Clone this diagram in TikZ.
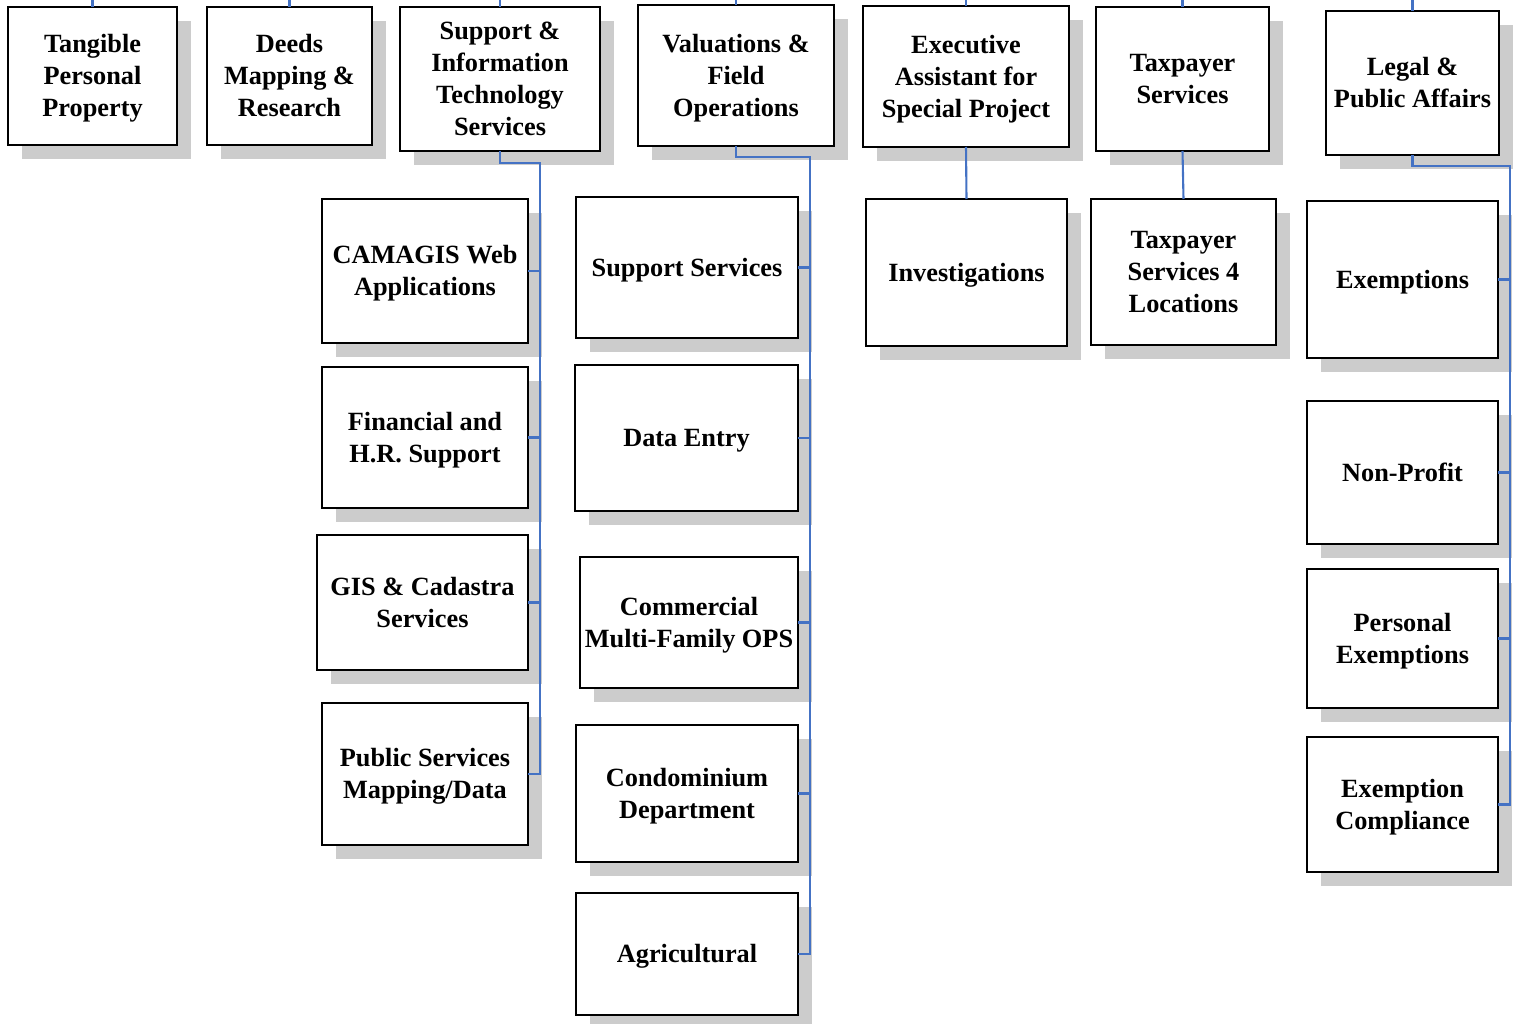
\documentclass[tikz,border=0pt]{standalone}
\usepackage{fontspec}
\setmainfont{Liberation Serif}
\usetikzlibrary{shadows}
\definecolor{shadowgray}{HTML}{CCCCCC}
\definecolor{linkblue}{HTML}{4472C4}
\tikzset{
  orgbox/.style={draw=black, line width=1.7pt, fill=white, inner sep=0pt, outer sep=0pt,
    anchor=north west,
    general shadow={shadow xshift=14pt, shadow yshift=-14pt, fill=shadowgray, draw=none}},
  orgtext/.style={align=center, inner sep=0pt, yshift=-2.2pt,
    font=\bfseries\fontsize{26.3}{32}\selectfont},
  conn/.style={draw=linkblue, line width=2.1pt}
}
% #1 name, #2 x1, #3 y1, #4 x2, #5 y2, #6 text
\newcommand\ob[6]{%
  \pgfmathsetmacro\bw{#4-#2}\pgfmathsetmacro\bh{#5-#3}%
  \node[orgbox, minimum width=\bw pt, minimum height=\bh pt,
    label={[orgtext]center:\strut #6\strut}] (#1) at (#2,#3) {};}
\begin{document}
\begin{tikzpicture}[x=1pt,y=-1pt]
\useasboundingbox (0,0) rectangle (1517,1024);
\coordinate (topedge) at (0,0);
% top row
\ob{tpp}{8}{7}{177}{145}{Tangible\\Personal\\Property}
\ob{deeds}{207}{7}{372}{145}{Deeds\\Mapping \&\\Research}
\ob{sit}{400}{7}{600}{151}{Support \&\\Information\\Technology\\Services}
\ob{val}{638}{5}{834}{146}{Valuations \&\\Field\\Operations}
\ob{exe}{863}{6}{1069}{147}{Executive\\Assistant for\\Special Project}
\ob{tax}{1096}{7}{1269}{151}{Taxpayer\\Services}
\ob{legal}{1326}{11}{1499}{155}{Legal \&\\Public Affairs}
% SIT children
\ob{cam}{322}{199}{528}{343}{CAMAGIS Web\\Applications}
\ob{fin}{322}{367}{528}{508}{Financial and\\H.R. Support}
\ob{gis}{317}{535}{528}{670}{GIS \& Cadastra\\Services}
\ob{pub}{322}{703}{528}{845}{Public Services\\Mapping/Data}
% Valuation children
\ob{sup}{576}{197}{798}{338}{Support Services}
\ob{data}{575}{365}{798}{511}{Data Entry}
\ob{com}{580}{557}{798}{688}{Commercial\\Multi-Family OPS}
\ob{con}{576}{725}{798}{862}{Condominium\\Department}
\ob{agr}{576}{893}{798}{1015}{Agricultural}
% Executive / Taxpayer children
\ob{inv}{866}{199}{1067}{346}{Investigations}
\ob{tax4}{1091}{199}{1276}{345}{Taxpayer\\Services 4\\Locations}
% Legal children
\ob{exm}{1307}{201}{1498}{358}{Exemptions}
\ob{np}{1307}{401}{1498}{544}{Non-Profit}
\ob{pex}{1307}{569}{1498}{708}{Personal\\Exemptions}
\ob{exc}{1307}{737}{1498}{872}{Exemption\\Compliance}
% top stubs
\foreach \n in {tpp,deeds,sit,val,exe,tax,legal}
  \draw[conn] (\n.north) -- (\n.north |- topedge);
% SIT bus
\coordinate (sitj) at (540,163);
\draw[conn] (sit.south) |- (sitj) -- (sitj |- pub.east) -- (pub.east);
\foreach \n in {cam,fin,gis}
  \draw[conn] (\n.east) -- (\n.east -| sitj);
% Valuations bus
\coordinate (valj) at (810,157);
\draw[conn] (val.south) |- (valj) -- (valj |- agr.east) -- (agr.east);
\foreach \n in {sup,data,com,con}
  \draw[conn] (\n.east) -- (\n.east -| valj);
% Legal bus
\coordinate (legj) at (1510,166);
\draw[conn] (legal.south) |- (legj) -- (legj |- exc.east) -- (exc.east);
\foreach \n in {exm,np,pex}
  \draw[conn] (\n.east) -- (\n.east -| legj);
% direct links
\draw[conn] (exe.south) -- (inv.north);
\draw[conn] (tax.south) -- (tax4.north);
\end{tikzpicture}
\end{document}
